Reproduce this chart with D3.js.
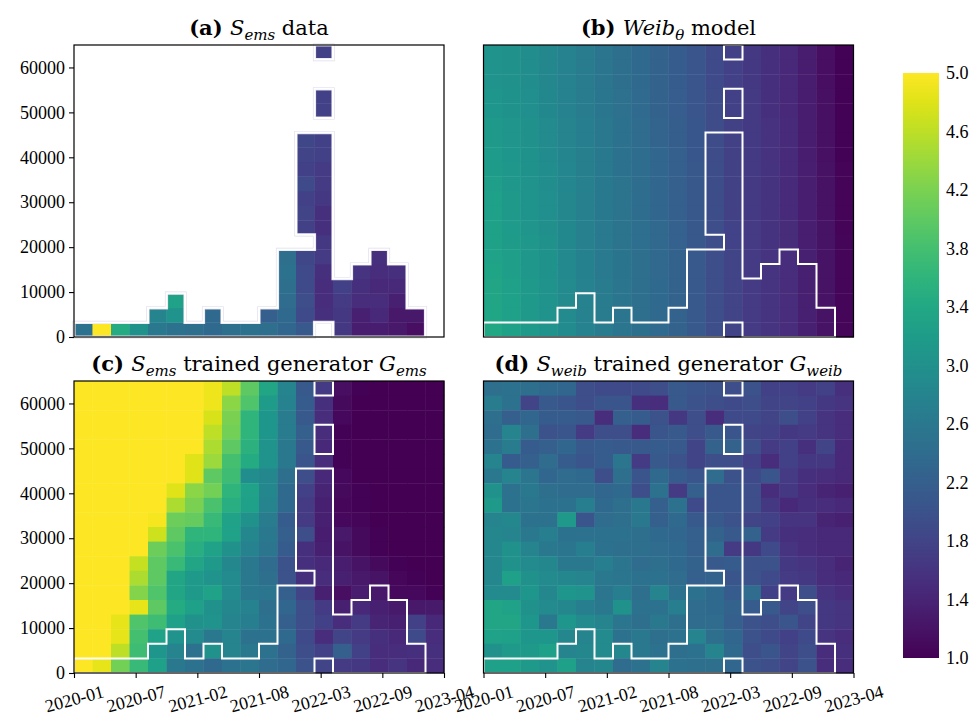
<!DOCTYPE html>
<html><head><meta charset="utf-8">
<script src="https://cdn.jsdelivr.net/npm/d3@7"></script>
<style>
body{margin:0;background:#fff}
svg{display:block}
text{font-family:"Liberation Serif",serif;fill:#000}
</style></head><body>
<svg id="fig" width="973" height="717"></svg>
<script>
// 20 x 20 bins: time (x) by price (y); colour = value on viridis 1..5
const NX = 20, NY = 20, Y_MAX = 65000;
const yTicks = [0, 10000, 20000, 30000, 40000, 50000, 60000];
const xTickLabels = ["2020-01","2020-07","2021-02","2021-08","2022-03","2022-09","2023-04"];
const cbTicks = [1.0, 1.4, 1.8, 2.2, 2.6, 3.0, 3.4, 3.8, 4.2, 4.6, 5.0];

// (a) observed data, one list per time bin, values from the bottom row up (null = empty bin)
const dataCols = [
  [2.5], [5.0], [3.45], [3.0], [2.6, 2.8], [2.5, 3.05, 3.3], [2.45], [2.35, 2.35], [2.45], [2.5],
  [2.45, 2.2], [2.3, 2.35, 2.4, 2.45, 2.5, 2.45],
  [2.1, 1.9, 1.95, 1.9, 1.9, 1.85, null, 1.75, 1.8, 1.75, 1.9, 1.75, 1.8, 1.85],
  [null, 1.55, 1.5, 1.5, 1.55, 1.7, 1.65, 1.55, 1.55, 1.65, 1.7, 1.7, 1.75, 1.75, null, 1.75, 1.75, null, null, 1.75],
  [1.65, 1.65, 1.7, 1.75], [1.3, 1.35, 1.5, 1.55, 1.6], [1.3, 1.45, 1.5, 1.45, 1.5, 1.55],
  [1.25, 1.25, 1.35, 1.45, 1.55], [1.15, 1.25], []
];

// (b) Weibull model, rows listed top (highest price) first
const weibRows = [
  [3.05,3.0,2.95,2.85,2.75,2.65,2.55,2.45,2.35,2.25,2.15,2.05,1.9,1.75,1.65,1.55,1.45,1.3,1.15,1.02],
  [3.05,3.0,2.95,2.85,2.75,2.65,2.55,2.45,2.35,2.25,2.15,2.05,1.9,1.75,1.65,1.55,1.45,1.3,1.15,1.02],
  [3.05,3.0,2.95,2.85,2.75,2.65,2.55,2.45,2.35,2.25,2.15,2.05,1.9,1.75,1.65,1.55,1.45,1.3,1.15,1.02],
  [3.1,3.03,2.97,2.87,2.77,2.67,2.57,2.47,2.37,2.26,2.16,2.06,1.91,1.76,1.66,1.56,1.46,1.31,1.16,1.02],
  [3.1,3.03,2.97,2.87,2.77,2.67,2.57,2.47,2.37,2.26,2.16,2.06,1.91,1.76,1.66,1.56,1.46,1.31,1.16,1.02],
  [3.15,3.08,3.0,2.9,2.8,2.7,2.6,2.5,2.4,2.28,2.18,2.07,1.92,1.77,1.67,1.57,1.47,1.32,1.17,1.03],
  [3.15,3.08,3.0,2.9,2.8,2.7,2.6,2.5,2.4,2.28,2.18,2.07,1.92,1.77,1.67,1.57,1.47,1.32,1.17,1.03],
  [3.18,3.1,3.03,2.92,2.82,2.71,2.61,2.51,2.41,2.3,2.19,2.07,1.92,1.77,1.67,1.57,1.47,1.32,1.17,1.03],
  [3.2,3.12,3.04,2.94,2.83,2.71,2.61,2.51,2.41,2.3,2.19,2.08,1.93,1.78,1.68,1.58,1.48,1.33,1.18,1.04],
  [3.22,3.13,3.05,2.95,2.84,2.72,2.62,2.52,2.42,2.31,2.2,2.08,1.93,1.78,1.68,1.58,1.48,1.33,1.18,1.04],
  [3.25,3.15,3.07,2.97,2.85,2.72,2.62,2.52,2.42,2.32,2.2,2.08,1.93,1.78,1.68,1.58,1.48,1.33,1.18,1.04],
  [3.25,3.15,3.07,2.97,2.85,2.72,2.62,2.52,2.42,2.32,2.2,2.08,1.93,1.78,1.68,1.58,1.48,1.33,1.18,1.04],
  [3.27,3.18,3.09,2.99,2.86,2.73,2.63,2.53,2.43,2.33,2.22,2.09,1.94,1.79,1.69,1.59,1.49,1.34,1.19,1.04],
  [3.29,3.2,3.11,3.01,2.87,2.73,2.63,2.53,2.43,2.33,2.23,2.09,1.94,1.79,1.69,1.59,1.49,1.34,1.19,1.05],
  [3.31,3.22,3.12,3.02,2.88,2.74,2.64,2.54,2.44,2.34,2.24,2.1,1.95,1.8,1.7,1.6,1.5,1.35,1.2,1.05],
  [3.33,3.23,3.13,3.03,2.89,2.74,2.64,2.54,2.44,2.34,2.24,2.1,1.95,1.8,1.7,1.6,1.5,1.35,1.2,1.05],
  [3.35,3.25,3.15,3.05,2.9,2.75,2.65,2.55,2.45,2.35,2.25,2.1,1.95,1.8,1.7,1.6,1.5,1.35,1.2,1.05],
  [3.35,3.25,3.15,3.05,2.9,2.75,2.65,2.55,2.45,2.35,2.25,2.1,1.95,1.8,1.7,1.6,1.5,1.35,1.2,1.05],
  [3.37,3.26,3.16,3.05,2.9,2.75,2.65,2.55,2.45,2.35,2.25,2.1,1.95,1.8,1.7,1.6,1.5,1.35,1.2,1.05],
  [3.38,3.27,3.17,3.06,2.91,2.76,2.66,2.56,2.46,2.36,2.25,2.1,1.95,1.8,1.7,1.6,1.5,1.35,1.2,1.05]
];

// (c) generator trained on S_ems, rows top first
const genEmsRows = [
  [5,5,5,5,5,5,5,4.9,4.6,4.0,3.35,2.8,2.1,1.7,1.15,1.02,1.0,1.0,1.0,1.0],
  [5,5,5,5,5,5,5,4.9,4.3,3.9,3.2,2.75,2.15,1.55,1.1,1.0,1.0,1.0,1.0,1.0],
  [5,5,5,5,5,5,5,4.75,4.2,3.6,3.1,2.65,2.1,1.5,1.08,1.0,1.0,1.0,1.0,1.0],
  [5,5,5,5,5,5,5,4.6,4.15,3.6,3.1,2.65,2.2,1.5,1.02,1.0,1.0,1.0,1.0,1.0],
  [5,5,5,5,5,5,5,4.5,4.0,3.55,3.05,2.6,2.1,1.45,1.02,1.0,1.0,1.0,1.0,1.0],
  [5,5,5,5,5,5,4.8,4.4,3.8,3.45,3.05,2.6,2.05,1.5,1.02,1.0,1.0,1.0,1.0,1.0],
  [5,5,5,5,5,5,4.8,4.0,3.75,2.95,2.85,2.45,1.95,1.45,1.08,1.0,1.0,1.0,1.0,1.0],
  [5,5,5,5,5,4.8,4.3,4.15,3.6,3.3,2.85,2.35,1.75,1.4,1.1,1.02,1.0,1.0,1.0,1.0],
  [5,5,5,5,5,4.5,4.2,3.85,3.5,3.25,2.8,2.35,1.7,1.35,1.07,1.02,1.0,1.0,1.0,1.0],
  [5,5,5,5,4.95,4.1,4.05,3.7,3.3,3.0,2.65,2.15,1.7,1.35,1.08,1.05,1.0,1.0,1.0,1.0],
  [5,5,5,5,4.7,4.0,3.6,3.6,3.3,2.85,2.6,2.2,1.95,1.3,1.25,1.1,1.02,1.0,1.0,1.0],
  [5,5,5,5,4.1,3.85,3.5,3.3,3.0,2.75,2.55,2.15,1.55,1.35,1.2,1.1,1.03,1.0,1.0,1.0],
  [5,5,5,4.65,4.0,3.7,3.35,3.15,2.85,2.6,2.4,2.0,1.55,1.45,1.3,1.2,1.1,1.02,1.0,1.0],
  [5,5,5,4.5,4.0,3.35,3.15,3.05,2.9,2.6,2.45,2.0,1.55,1.5,1.35,1.25,1.2,1.07,1.02,1.0],
  [5,5,5,4.25,3.9,3.35,3.15,3.3,2.9,2.6,2.55,2.2,1.8,1.35,1.15,1.3,1.25,1.08,1.08,1.02],
  [5,5,5,4.85,4.0,3.45,3.25,3.0,2.85,2.75,2.45,2.3,1.95,1.7,1.35,1.45,1.35,1.27,1.25,1.27],
  [5,5,4.85,3.9,3.75,3.25,3.0,3.05,2.8,2.7,2.5,2.2,1.95,1.75,1.5,1.7,1.4,1.35,1.75,1.45],
  [5,5,4.85,3.8,3.3,3.05,2.9,2.6,2.8,2.5,2.5,2.35,1.9,1.5,1.8,1.7,1.55,1.45,1.9,1.5],
  [5,5,4.6,3.75,3.1,2.8,2.5,3.0,2.8,2.6,2.5,2.25,1.95,1.75,2.2,1.75,1.5,1.5,1.55,1.55],
  [5,4.85,4.15,3.7,3.25,2.6,2.5,2.35,2.5,2.55,2.4,2.3,2.0,1.8,1.7,1.65,1.5,1.6,1.45,1.5]
];

// (d) generator trained on S_weib, rows top first
const genWeibRows = [
  [2.45,2.5,2.45,2.35,2.3,1.95,1.9,1.9,1.9,1.95,2.1,2.05,2.0,1.95,2.0,1.75,1.75,1.7,1.75,1.55],
  [2.65,2.5,1.8,2.1,2.05,1.95,2.05,2.05,1.55,1.5,2.1,2.0,1.95,1.9,1.95,1.8,1.8,1.75,1.65,1.6],
  [2.45,2.2,2.3,2.15,2.15,2.1,1.5,2.2,2.15,2.0,1.65,1.95,1.5,1.9,1.9,1.8,1.95,1.75,1.6,1.5],
  [2.4,2.8,2.45,2.0,2.05,1.7,1.95,1.95,1.5,2.05,2.1,1.95,2.1,2.05,1.8,1.75,1.65,1.7,1.6,1.5],
  [2.5,2.65,2.15,2.2,2.3,2.1,2.15,2.1,2.1,2.15,2.1,1.8,2.25,2.25,1.95,1.7,1.75,1.55,1.8,1.45],
  [2.8,2.15,2.2,2.4,2.15,2.05,2.15,2.55,1.7,2.1,2.0,1.8,1.95,1.95,1.75,1.5,1.75,1.65,1.65,1.45],
  [2.6,2.8,2.55,2.3,2.4,2.35,1.95,2.45,2.05,2.35,2.15,2.05,2.4,2.0,1.9,2.05,1.7,1.55,1.5,1.45],
  [3.0,2.5,2.6,2.45,2.4,2.4,2.3,2.35,1.95,2.5,1.7,2.2,2.05,2.05,1.95,1.5,1.65,1.5,1.4,1.35],
  [3.15,2.5,2.55,2.5,2.5,2.7,2.35,2.45,2.6,2.2,2.5,1.9,2.05,2.05,1.95,1.65,1.45,1.55,1.5,1.45],
  [2.8,2.85,2.5,2.5,3.15,2.05,2.4,2.45,2.6,2.2,2.35,2.1,2.1,2.0,1.8,1.75,1.6,1.6,1.4,1.35],
  [2.85,2.8,2.6,2.7,2.5,2.5,2.5,2.5,2.45,2.35,2.3,2.2,2.25,2.1,2.25,1.7,1.55,1.5,1.45,1.45],
  [2.85,3.0,2.8,2.6,2.55,2.7,2.5,2.45,2.45,2.4,2.35,2.2,2.4,1.7,1.65,1.9,1.6,1.5,1.45,1.45],
  [2.85,3.0,2.9,2.85,2.6,2.6,2.7,2.55,2.4,2.45,2.35,2.25,2.1,2.15,2.0,2.0,1.65,1.6,1.5,1.4],
  [2.85,3.25,3.0,2.9,2.85,2.8,2.6,2.55,2.5,2.5,2.4,2.2,2.25,2.05,2.0,1.9,1.7,1.65,1.5,1.45],
  [2.9,2.9,3.1,2.85,3.1,3.05,2.55,2.7,2.45,2.8,2.5,2.5,2.35,2.15,2.4,1.75,1.7,1.95,1.6,1.5],
  [3.35,3.3,3.0,2.9,2.85,2.7,2.6,3.0,2.5,2.5,2.7,2.4,2.35,2.25,2.15,2.1,1.8,1.95,1.65,1.6],
  [3.35,3.35,3.1,2.6,3.1,2.9,2.8,2.55,2.45,2.6,2.45,2.4,2.4,2.2,2.0,1.95,2.05,1.8,1.65,1.6],
  [3.3,3.25,3.1,3.1,2.85,2.8,2.9,2.5,2.6,2.45,2.5,2.8,2.45,2.3,2.0,1.9,1.75,1.9,1.6,1.5],
  [3.0,3.15,3.15,3.25,2.8,2.85,2.9,2.85,2.6,2.5,2.45,2.5,2.8,2.35,1.95,2.05,1.8,1.95,1.5,1.55],
  [3.25,3.25,3.15,3.05,3.25,2.8,2.85,2.4,2.5,2.8,2.5,2.45,2.45,2.3,2.0,1.95,1.8,2.0,1.5,1.5]
];

// turn the tables into cell records {i: time bin, j: price bin from bottom, v}
const fromCols = cols => cols.flatMap((col, i) =>
  col.map((v, j) => ({i, j, v})).filter(c => c.v != null));
const fromRows = rows => rows.flatMap((row, k) =>
  row.map((v, i) => ({i, j: NY - 1 - k, v})));

const W = 370, H = 292;
const SERIF = "'Liberation Serif', serif";
const PANELS = [
  {x: 74,    y: 45,  cells: fromCols(dataCols),    yAxis: true,  xAxis: false, empty: true,
   title: [["(a) ", "b"], ["S", "i"], ["ems", "s"], [" data", ""]]},
  {x: 483.5, y: 45,  cells: fromRows(weibRows),    yAxis: false, xAxis: false,
   title: [["(b) ", "b"], ["Weib", "i"], ["θ", "s"], [" model", ""]]},
  {x: 74,    y: 381, cells: fromRows(genEmsRows),  yAxis: true,  xAxis: true,
   title: [["(c) ", "b"], ["S", "i"], ["ems", "s"], [" trained generator ", ""], ["G", "i"], ["ems", "s"]]},
  {x: 483.5, y: 381, cells: fromRows(genWeibRows), yAxis: false, xAxis: true,
   title: [["(d) ", "b"], ["S", "i"], ["weib", "s"], [" trained generator ", ""], ["G", "i"], ["weib", "s"]]}
];

const color = d3.scaleSequential(d3.interpolateViridis).domain([1, 5]).clamp(true);
const xBin = d3.scaleBand().domain(d3.range(NX)).range([0, W]);
const yBin = d3.scaleBand().domain(d3.range(NY)).range([H, 0]);
const yScale = d3.scaleLinear().domain([0, Y_MAX]).range([H, 0]);
const xScale = d3.scalePoint().domain(xTickLabels).range([0, W]);

// outline of the occupied bins of the data panel
const filled = new Set(fromCols(dataCols).map(c => c.i + "," + c.j));
const has = (i, j) => filled.has(i + "," + j);
const bw = xBin.bandwidth(), bh = yBin.bandwidth();
let outline = "";
for (const key of filled) {
  const [i, j] = key.split(",").map(Number);
  const x0 = xBin(i), x1 = x0 + bw, yT = yBin(j), yB = yT + bh;
  if (!has(i - 1, j)) outline += `M${x0},${yT}L${x0},${yB}`;
  if (!has(i + 1, j)) outline += `M${x1},${yT}L${x1},${yB}`;
  if (!has(i, j - 1)) outline += `M${x0},${yB}L${x1},${yB}`;
  if (!has(i, j + 1)) outline += `M${x0},${yT}L${x1},${yT}`;
}

const svg = d3.select("#fig");

PANELS.forEach(p => {
  const g = svg.append("g").attr("transform", `translate(${p.x},${p.y})`);
  g.append("g").selectAll("rect").data(p.cells).join("rect")
    .attr("x", d => xBin(d.i)).attr("y", d => yBin(d.j))
    .attr("width", bw + 0.4).attr("height", bh + 0.4)
    .attr("fill", d => color(d.v));
  if (p.empty) {
    g.append("path").attr("d", outline).attr("fill", "none")
      .attr("stroke", "#dddbea").attr("stroke-width", 3.2).attr("stroke-linecap", "square");
  }
  g.append("path").attr("d", outline).attr("fill", "none")
    .attr("stroke", "#fff").attr("stroke-width", 2).attr("stroke-linecap", "square");
  g.append("rect").attr("width", W).attr("height", H)
    .attr("fill", "none").attr("stroke", "#000").attr("stroke-width", 1.2);

  if (p.yAxis) {
    const ay = g.append("g").call(d3.axisLeft(yScale).tickValues(yTicks)
      .tickFormat(d3.format("d")).tickSize(5).tickPadding(4));
    ay.select(".domain").remove();
    ay.selectAll("line").attr("stroke", "#000").attr("stroke-width", 1.1);
    ay.selectAll("text").style("font-family", SERIF).style("font-size", "18px");
  }
  if (p.xAxis) {
    const ax = g.append("g").attr("transform", `translate(0,${H})`)
      .call(d3.axisBottom(xScale).tickSize(5).tickPadding(4));
    ax.select(".domain").remove();
    ax.selectAll("line").attr("stroke", "#000").attr("stroke-width", 1.1);
    ax.selectAll("text").style("font-family", SERIF).style("font-size", "18px")
      .attr("y", 0).attr("dy", null).attr("text-anchor", "middle")
      .attr("dominant-baseline", "central")
      .attr("transform", "translate(0,26) rotate(-15)");
  }

  // title with italic math and subscripts
  const t = g.append("text").attr("x", W / 2).attr("y", -10)
    .attr("text-anchor", "middle")
    .style("font-family", "'DejaVu Serif', serif").style("font-size", "21px");
  let sub = false;
  p.title.forEach(([s, style]) => {
    const ts = t.append("tspan").text(s);
    if (style === "b") ts.attr("font-weight", "bold");
    if (style === "i" || style === "s") ts.attr("font-style", "italic");
    if (style === "s") { ts.style("font-size", "15px").attr("dy", 5); sub = true; }
    else if (sub) { ts.attr("dy", -5); sub = false; }
  });
});

// colour bar
const cb = {x: 903, y: 73, w: 36, h: 585};
const grad = svg.append("defs").append("linearGradient").attr("id", "vir")
  .attr("x1", 0).attr("y1", 1).attr("x2", 0).attr("y2", 0);
grad.selectAll("stop").data(d3.range(0, 1.0001, 0.05)).join("stop")
  .attr("offset", d => d).attr("stop-color", d => d3.interpolateViridis(d));
svg.append("rect").attr("x", cb.x).attr("y", cb.y).attr("width", cb.w).attr("height", cb.h)
  .attr("fill", "url(#vir)");
const cbScale = d3.scaleLinear().domain([1, 5]).range([cb.y + cb.h, cb.y]);
svg.append("g").attr("transform", `translate(${cb.x + cb.w},0)`)
  .call(d3.axisRight(cbScale).tickValues(cbTicks).tickFormat(d3.format(".1f"))
    .tickSize(0).tickPadding(7))
  .call(a => a.select(".domain").remove())
  .selectAll("text").style("font-family", SERIF).style("font-size", "18px");
</script>
</body></html>
